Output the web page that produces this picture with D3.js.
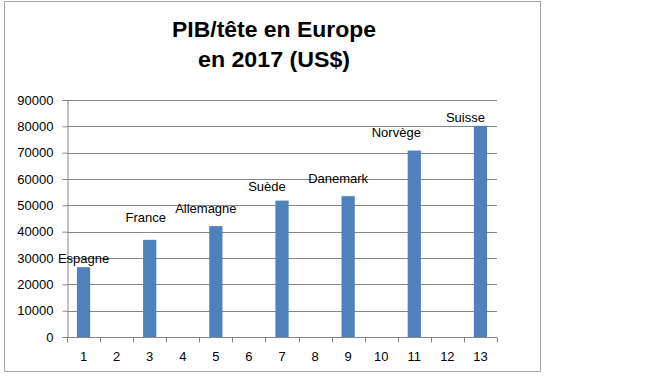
<!DOCTYPE html>
<html>
<head>
<meta charset="utf-8">
<script src="https://cdn.jsdelivr.net/npm/d3@7"></script>
<style>
  body { margin: 0; background: #fff; }
  svg { display: block; font-family: "Liberation Sans", Arial, sans-serif; }
</style>
</head>
<body>
<svg id="chart" width="660" height="389"></svg>
<script>
// data
var categories = [1, 2, 3, 4, 5, 6, 7, 8, 9, 10, 11, 12, 13];
var countries  = ["Espagne", null, "France", null, "Allemagne", null, "Suède", null, "Danemark", null, "Norvège", null, "Suisse"];
var values     = [26500, null, 36900, null, 42100, null, 51800, null, 53500, null, 70800, null, 80200];
var yTicks     = [0, 10000, 20000, 30000, 40000, 50000, 60000, 70000, 80000, 90000];
var titleLines = ["PIB/tête en Europe", "en 2017 (US$)"];

// label nudges (px) so the names sit where Excel put them
var labelDx = [0, 0, -4, 0, -10, 0, -15, 0, -10, 0, -18, 0, -15];
var labelDy = [-9, 0, -22, 0, -18, 0, -14, 0, -18, 0, -18, 0, -8];
var titleWidths = [204, 152];

var svg = d3.select('#chart');
var margin = {left: 67, right: 163, top: 100, bottom: 52};
var width = 660 - margin.left - margin.right;
var height = 389 - margin.top - margin.bottom;

// outer chart frame
svg.append("rect")
	.attr("x", 4.5).attr("y", 1.5)
	.attr("width", 536).attr("height", 370)
	.attr("fill", "#fff")
	.attr("stroke", "#a6a6a6");

svg.append("g")
	.selectAll("text")
	.data(titleLines)
	.enter().append("text")
		.attr("x", 274)
		.attr("y", function(d, i) { return 37 + i * 30; })
		.attr("text-anchor", "middle")
		.attr("font-size", 22)
		.attr("font-weight", "bold")
		.attr("fill", "#000")
		.attr("textLength", function(d, i) { return titleWidths[i]; })
		.attr("lengthAdjust", "spacingAndGlyphs")
		.text(function(d) { return d; });

var x = d3.scaleBand().domain(categories).range([0, width]).paddingInner(0).paddingOuter(0);
var y = d3.scaleLinear().domain([0, 90000]).range([height, 0]);

var g = svg.append("g").attr("transform", "translate(" + margin.left + "," + margin.top + ")");

// gridlines
g.append("g")
	.selectAll("line")
	.data(yTicks.slice(1))
	.enter().append("line")
		.attr("x1", 0).attr("x2", width)
		.attr("y1", function(d) { return Math.round(y(d)) + 0.5; })
		.attr("y2", function(d) { return Math.round(y(d)) + 0.5; })
		.attr("stroke", "#868686");

// y axis
var yAxis = g.append("g")
	.attr("transform", "translate(0.5,0)")
	.call(d3.axisLeft(y).tickValues(yTicks).tickSize(5).tickPadding(9).tickFormat(d3.format("d")));
yAxis.selectAll("text").attr("font-size", 13).attr("fill", "#000").attr("font-family", "Liberation Sans, Arial, sans-serif");
yAxis.selectAll("line, path").attr("stroke", "#868686");

// bars
var barW = x.bandwidth() / 2.5;
var data = categories.map(function(c, i) { return {cat: c, name: countries[i], value: values[i], i: i}; })
	.filter(function(d) { return d.value != null; });

g.append("g")
	.selectAll("rect")
	.data(data)
	.enter().append("rect")
		.attr("x", function(d) { return x(d.cat) + (x.bandwidth() - barW) / 2; })
		.attr("y", function(d) { return y(d.value); })
		.attr("width", barW)
		.attr("height", function(d) { return height - y(d.value); })
		.attr("fill", "#4f81bd");

// x axis: ticks between categories
var xa = g.append("g").attr("transform", "translate(0," + (Math.round(height) + 0.5) + ")");
xa.append("line").attr("x1", 0).attr("x2", width).attr("stroke", "#868686");
xa.selectAll(".tk")
	.data(d3.range(categories.length + 1))
	.enter().append("line")
		.attr("class", "tk")
		.attr("x1", function(d) { return Math.round(d * x.step()) + 0.5; })
		.attr("x2", function(d) { return Math.round(d * x.step()) + 0.5; })
		.attr("y1", 0).attr("y2", 5)
		.attr("stroke", "#868686");
xa.selectAll(".lb")
	.data(categories)
	.enter().append("text")
		.attr("class", "lb")
		.attr("x", function(d) { return x(d) + x.bandwidth() / 2; })
		.attr("y", 23)
		.attr("text-anchor", "middle")
		.attr("font-size", 13)
		.attr("fill", "#000")
		.text(function(d) { return d; });

// data labels
g.append("g")
	.selectAll("text")
	.data(data)
	.enter().append("text")
		.attr("x", function(d) { return x(d.cat) + x.bandwidth() / 2 + labelDx[d.i]; })
		.attr("y", function(d) { return y(d.value) + labelDy[d.i]; })
		.attr("dy", "0.35em")
		.attr("text-anchor", "middle")
		.attr("font-size", 13)
		.attr("fill", "#000")
		.text(function(d) { return d.name; });
</script>
</body>
</html>
